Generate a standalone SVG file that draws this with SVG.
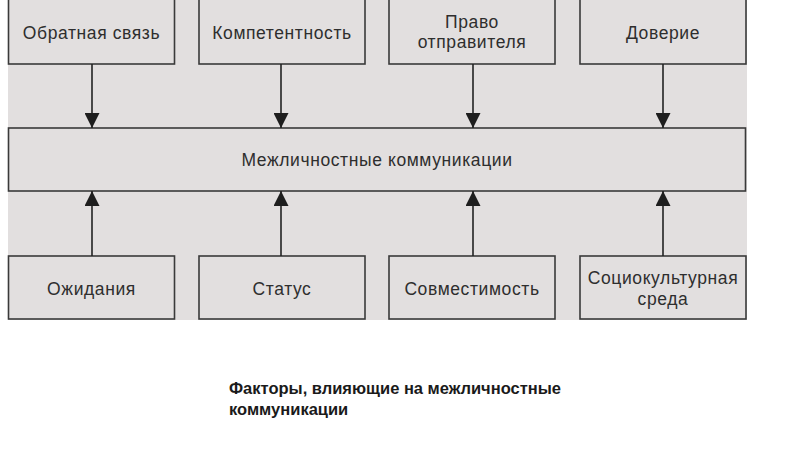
<svg xmlns="http://www.w3.org/2000/svg" width="800" height="450" viewBox="0 0 800 450">
<defs>
<marker id="ah" markerWidth="15" markerHeight="15" refX="15" refY="7.5" orient="auto" markerUnits="userSpaceOnUse">
<path d="M0,0 L15,7.5 L0,15 Z" fill="#1e1e1e"/>
</marker>
<style>
.bx{fill:#e2dfdf;stroke:#3a3a3a;stroke-width:1.6}
.t{font-family:"Liberation Sans",Arial,sans-serif;font-size:17.5px;fill:#2e2e2e;text-anchor:middle;letter-spacing:0.6px}
.c{stroke:#222;stroke-width:1.6;fill:none;marker-end:url(#ah)}
.cap{font-family:"Liberation Sans",Arial,sans-serif;font-size:16.5px;font-weight:bold;fill:#1a1a1a}
</style>
</defs>
<rect x="8" y="0" width="739" height="320" fill="#e2dfdf"/>
<g id="n1"><rect class="bx" x="8.5" y="-2" width="166" height="66"/><text class="t" x="91.5" y="39">Обратная связь</text></g>
<g id="n2"><rect class="bx" x="199" y="-2" width="166" height="66"/><text class="t" x="282" y="39">Компетентность</text></g>
<g id="n3"><rect class="bx" x="389" y="-2" width="166" height="66"/><text class="t" x="472" y="28">Право</text><text class="t" x="472" y="48">отправителя</text></g>
<g id="n4"><rect class="bx" x="580" y="-2" width="166" height="66"/><text class="t" x="663" y="39">Доверие</text></g>
<g id="center"><rect class="bx" x="8.5" y="128" width="737" height="63"/><text class="t" x="377" y="166">Межличностные коммуникации</text></g>
<g id="b1"><rect class="bx" x="8.5" y="256" width="166" height="63"/><text class="t" x="91.5" y="295">Ожидания</text></g>
<g id="b2"><rect class="bx" x="199" y="256" width="166" height="63"/><text class="t" x="282" y="295">Статус</text></g>
<g id="b3"><rect class="bx" x="389" y="256" width="166" height="63"/><text class="t" x="472" y="295">Совместимость</text></g>
<g id="b4"><rect class="bx" x="580" y="256" width="166" height="63"/><text class="t" x="663" y="284">Социокультурная</text><text class="t" x="663" y="305">среда</text></g>
<g id="connectors">
<line class="c" x1="92" y1="64" x2="92" y2="128"/>
<line class="c" x1="281" y1="64" x2="281" y2="128"/>
<line class="c" x1="473" y1="64" x2="473" y2="128"/>
<line class="c" x1="663" y1="64" x2="663" y2="128"/>
<line class="c" x1="92" y1="256" x2="92" y2="191"/>
<line class="c" x1="281" y1="256" x2="281" y2="191"/>
<line class="c" x1="473" y1="256" x2="473" y2="191"/>
<line class="c" x1="663" y1="256" x2="663" y2="191"/>
</g>
<text class="cap" x="229" y="394">Факторы, влияющие на межличностные</text>
<text class="cap" x="229" y="415">коммуникации</text>
</svg>
